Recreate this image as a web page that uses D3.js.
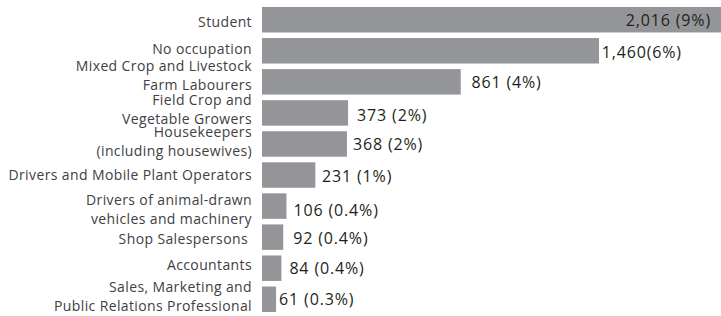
<!DOCTYPE html>
<html>
<head>
<meta charset="utf-8">
<script src="https://cdn.jsdelivr.net/npm/d3@7"></script>
<style>
  html, body { margin: 0; padding: 0; background: #fff; }
  svg { display: block; }
</style>
</head>
<body>
<svg id="chart" width="721" height="316"></svg>
<script>
// ---- data ----
const categories = [
  "Student",
  "No occupation",
  "Mixed Crop and Livestock\nFarm Labourers",
  "Field Crop and\nVegetable Growers",
  "Housekeepers\n(including housewives)",
  "Drivers and Mobile Plant Operators",
  "Drivers of animal-drawn\nvehicles and machinery",
  "Shop Salespersons ",
  "Accountants",
  "Sales, Marketing and\nPublic Relations Professional"
];
const values = [2016, 1460, 861, 373, 368, 231, 106, 92, 84, 61];
const valueLabels = [
  "2,016 (9%)", "1,460(6%)", "861 (4%)", "373 (2%)", "368 (2%)",
  "231 (1%)", "106 (0.4%)", "92 (0.4%)", "84 (0.4%)", "61 (0.3%)"
];

// ---- layout ----
const W = 721, H = 316;
const barLeft = 262;
const labelRight = 252;
const lineH = 19;
// baseline of first label line relative to band centre
const labelDy = [7.3, 2.8, -11, -8, -7, 4.5, -1.5, 6.5, 1.5, -7.5];
const valueDy = [6.7, 7.5, 6, 7.7, 6, 6.5, 9.5, 6.5, 5.5, 5.5];
const valueDx = [0, 2.7, 10.7, 9, 6, 6.7, 7, 10, 8, 3];

const svg = d3.select("#chart");

const y = d3.scaleBand()
  .domain(d3.range(categories.length))
  .range([4.2, 314.8])
  .paddingInner(0.18)
  .paddingOuter(0.09);

const x = d3.scaleLinear()
  .domain([0, 1460])
  .range([barLeft, 599]);

const barColor = "#939598";

svg.append("g")
  .selectAll("rect")
  .data(values)
  .join("rect")
  .attr("x", x(0))
  .attr("y", (d, i) => y(i))
  .attr("width", d => x(d) - x(0))
  .attr("height", y.bandwidth())
  .attr("fill", barColor);

const font = "'Open Sans', sans-serif";

// category labels
const lg = svg.append("g")
  .attr("font-family", font)
  .attr("font-size", 14)
  .attr("letter-spacing", 0.38)
  .attr("fill", "#414042")
  .attr("text-anchor", "end");

categories.forEach((c, i) => {
  const cy = y(i) + y.bandwidth() / 2;
  const lines = c.split("\n");
  const t = lg.append("text")
    .attr("x", labelRight)
    .attr("y", cy + labelDy[i])
    .attr("xml:space", "preserve");
  lines.forEach((ln, k) => {
    t.append("tspan")
      .attr("x", labelRight)
      .attr("dy", k === 0 ? 0 : lineH)
      .text(ln);
  });
});

// value labels
const vg = svg.append("g")
  .attr("font-family", font)
  .attr("font-size", 16)
  .attr("letter-spacing", 0.85)
  .attr("fill", "#231f20");

values.forEach((v, i) => {
  const cy = y(i) + y.bandwidth() / 2;
  const inside = x(v) > W;
  vg.append("text")
    .attr("x", inside ? 711 : x(v) + valueDx[i])
    .attr("y", cy + valueDy[i])
    .attr("text-anchor", inside ? "end" : "start")
    .text(valueLabels[i]);
});
</script>
</body>
</html>
